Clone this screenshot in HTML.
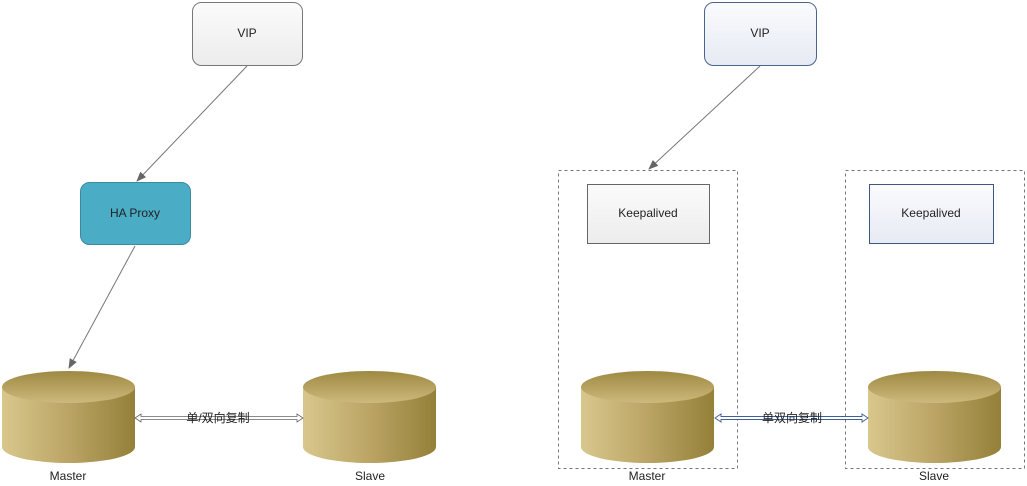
<!DOCTYPE html>
<html><head><meta charset="utf-8"><style>
html,body{margin:0;padding:0;background:#fff;width:1027px;height:486px;overflow:hidden}
text{font-family:"Liberation Sans","Noto Sans CJK SC",sans-serif;font-size:12px;fill:#222}
</style></head><body>
<svg width="1027" height="486" viewBox="0 0 1027 486" xmlns="http://www.w3.org/2000/svg">
<defs>
<linearGradient id="body" x1="0" x2="1" y1="0" y2="0">
<stop offset="0" stop-color="#d8c78c"/><stop offset="0.5" stop-color="#bba465"/><stop offset="1" stop-color="#948039"/>
</linearGradient>
<linearGradient id="top" x1="0" x2="0" y1="0" y2="1">
<stop offset="0" stop-color="#9e8943"/><stop offset="1" stop-color="#cdb97c"/>
</linearGradient>
<linearGradient id="gray" x1="0" x2="0" y1="0" y2="1">
<stop offset="0" stop-color="#fbfbfb"/><stop offset="1" stop-color="#ececec"/>
</linearGradient>
<linearGradient id="blu" x1="0" x2="0" y1="0" y2="1">
<stop offset="0" stop-color="#fafbfd"/><stop offset="1" stop-color="#e6eaf3"/>
</linearGradient>
<marker id="ar" markerWidth="10" markerHeight="8" refX="9" refY="4" orient="auto" markerUnits="userSpaceOnUse">
<path d="M0,0 L10,4 L0,8 Z" fill="#666"/>
</marker>
</defs>

<!-- left -->
<rect x="192.5" y="2.5" width="110" height="63" rx="9" fill="url(#gray)" stroke="#777"/>
<text x="247" y="37" text-anchor="middle">VIP</text>
<line x1="247" y1="66" x2="137" y2="181" stroke="#777" marker-end="url(#ar)"/>
<rect x="80.5" y="182.5" width="110" height="62" rx="9" fill="#4bacc6" stroke="#3a8aa0"/>
<text x="135" y="217" text-anchor="middle">HA  Proxy</text>
<line x1="135" y1="246" x2="69" y2="368" stroke="#777" marker-end="url(#ar)"/>

<!-- right -->
<rect x="704.5" y="2.5" width="112" height="63" rx="9" fill="url(#blu)" stroke="#4a6490"/>
<text x="760" y="37" text-anchor="middle">VIP</text>
<line x1="760" y1="66" x2="649" y2="169" stroke="#777" marker-end="url(#ar)"/>
<rect x="558.5" y="170.5" width="179" height="298" fill="none" stroke="#777" stroke-dasharray="3,3"/>
<rect x="845.5" y="170.5" width="179" height="298" fill="none" stroke="#777" stroke-dasharray="3,3"/>
<rect x="587.5" y="184.5" width="122" height="59" fill="url(#gray)" stroke="#666"/>
<text x="648" y="217" text-anchor="middle">Keepalived</text>
<rect x="869.5" y="184.5" width="124" height="59" fill="url(#blu)" stroke="#3f5680"/>
<text x="931" y="217" text-anchor="middle">Keepalived</text>

<!-- cylinders -->
<g id="cyl">
<path d="M2,387 L2,447 A66.5,16 0 0 0 135,447 L135,387 Z" fill="url(#body)"/>
<ellipse cx="68.5" cy="387" rx="66.5" ry="16" fill="url(#top)"/>
</g>
<use href="#cyl" x="301"/>
<use href="#cyl" x="579"/>
<use href="#cyl" x="866"/>

<!-- replication arrows left -->
<path d="M135,418 L141,414 L141,416.5 L297,416.5 L297,414 L303,418 L297,422 L297,419.5 L141,419.5 L141,422 Z" fill="#fff" stroke="#666" stroke-width="0.8"/>
<text x="218" y="422" text-anchor="middle">单/双向复制</text>
<!-- right -->
<path d="M715,418 L721,414 L721,416.5 L862,416.5 L862,414 L868,418 L862,422 L862,419.5 L721,419.5 L721,422 Z" fill="#fff" stroke="#3f5f95" stroke-width="0.9"/>
<text x="792" y="422" text-anchor="middle">单双向复制</text>

<text x="68" y="480" text-anchor="middle">Master</text>
<text x="370" y="480" text-anchor="middle">Slave</text>
<text x="647" y="480" text-anchor="middle">Master</text>
<text x="934" y="480" text-anchor="middle">Slave</text>
</svg>
</body></html>
